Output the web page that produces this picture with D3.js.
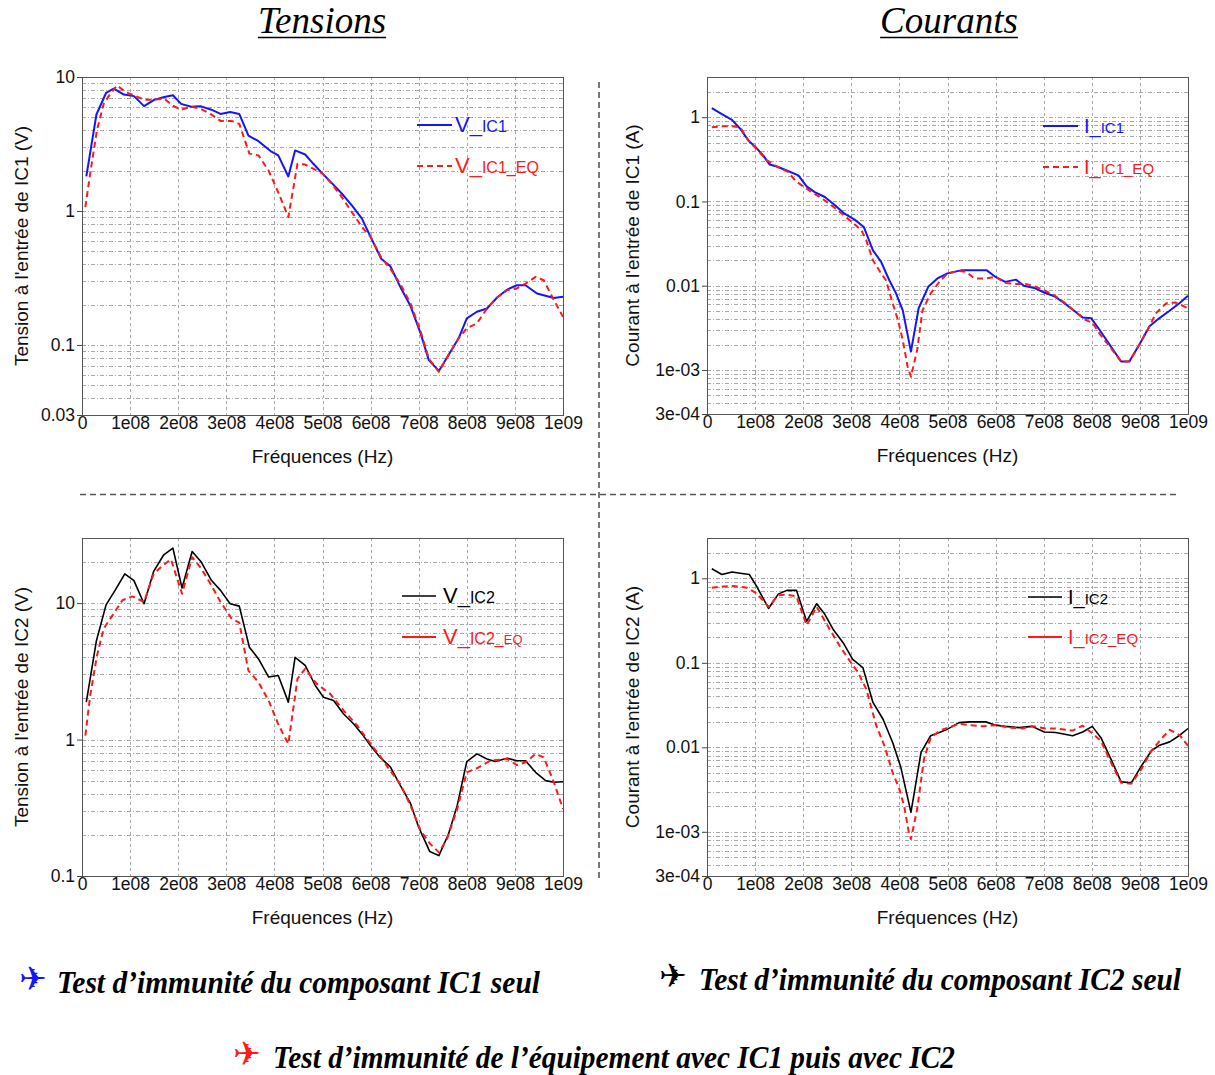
<!DOCTYPE html>
<html>
<head>
<meta charset="utf-8">
<script src="https://cdn.jsdelivr.net/npm/d3@7"></script>
<style>
  html, body { margin: 0; padding: 0; background: #fff; }
  svg { display: block; }
</style>
</head>
<body>
<script>
// Frequencies in MHz, values in V or A (log scale)
const xTickValues = [0, 100, 200, 300, 400, 500, 600, 700, 800, 900, 1000];
const xTickLabels = ["0", "1e08", "2e08", "3e08", "4e08", "5e08", "6e08", "7e08", "8e08", "9e08", "1e09"];

// Tensions, IC1
const freqV_IC1 = [9,30,50,66,87,108,129,150,171,189,206,227,246,269,288,308,327,346,367,392,408,429,443,464,481,500,519,540,561,582,600,622,641,662,683,704,721,742,762,783,800,821,842,863,884,904,922,946,981,1000];
const V_IC1 = [1.81,5.25,7.6,8.2,7.4,7.2,6.06,6.75,7.1,7.3,6.3,6.0,6.06,5.7,5.3,5.47,5.3,3.65,3.32,2.8,2.6,1.81,2.83,2.64,2.25,1.9,1.62,1.35,1.10,0.877,0.64,0.44,0.387,0.27,0.195,0.122,0.077,0.064,0.084,0.112,0.158,0.177,0.187,0.226,0.259,0.279,0.279,0.242,0.224,0.229];
const freqV_IC1_EQ = [7,17,31,45,59,73,91,108,129,150,171,189,206,227,246,269,288,311,327,348,367,388,409,429,448,464,500,519,540,561,582,600,622,641,662,683,704,721,742,762,783,800,821,842,863,884,904,922,943,960,981,1000];
const V_IC1_EQ = [1.07,1.9,4.0,6.3,7.5,8.65,7.7,7.3,6.76,6.76,6.9,6.1,5.7,6.0,5.8,5.25,4.7,4.7,4.47,2.68,2.6,2.0,1.35,0.90,2.25,2.22,1.9,1.6,1.27,0.98,0.76,0.64,0.45,0.37,0.284,0.204,0.126,0.079,0.063,0.084,0.112,0.133,0.145,0.187,0.226,0.256,0.264,0.287,0.322,0.304,0.216,0.162];

// Courants, IC1
const freqI_IC1 = [10,31,52,69,86,103,117,130,145,166,190,207,224,245,266,286,307,326,345,362,379,393,407,424,440,460,479,500,530,560,581,600,620,642,659,680,701,722,743,764,781,799,816,837,861,878,899,920,940,961,982,1000];
const I_IC1 = [1.28,1.09,0.93,0.73,0.53,0.43,0.35,0.275,0.26,0.233,0.204,0.151,0.129,0.113,0.09,0.0716,0.0608,0.0498,0.0263,0.0192,0.0116,0.0081,0.0051,0.00165,0.0054,0.0097,0.0122,0.0140,0.0153,0.0153,0.0153,0.0127,0.0111,0.0118,0.0100,0.0094,0.0083,0.0075,0.0062,0.0050,0.0042,0.0041,0.0030,0.0020,0.00126,0.00126,0.0020,0.0033,0.0041,0.0050,0.0062,0.0076];
const freqI_IC1_EQ = [10,31,52,69,86,103,124,145,169,183,197,214,234,255,276,297,321,331,345,362,372,386,397,407,417,424,437,448,465,483,500,524,539,556,580,600,621,642,663,684,701,722,743,764,788,802,816,837,861,878,899,920,933,955,975,1000];
const I_IC1_EQ = [0.76,0.78,0.78,0.76,0.53,0.42,0.31,0.26,0.223,0.178,0.155,0.133,0.113,0.094,0.075,0.0597,0.0455,0.0347,0.020,0.014,0.0116,0.0062,0.0039,0.00226,0.0011,0.00083,0.00173,0.0051,0.0081,0.0111,0.014,0.015,0.0146,0.0122,0.0122,0.0127,0.0108,0.0105,0.0105,0.0097,0.0088,0.0077,0.0063,0.0050,0.0039,0.0036,0.0027,0.0019,0.00126,0.00126,0.0020,0.0033,0.0047,0.0062,0.0063,0.0054];

// Tensions, IC2
const freqV_IC2 = [9,30,50,70,89,108,129,149,170,189,208,229,248,269,288,308,327,348,367,388,408,429,443,464,485,502,523,544,565,582,600,620,641,662,683,700,723,742,762,780,800,821,842,859,884,904,922,943,964,981,1000];
const V_IC2 = [1.88,5.3,9.7,12.6,16.4,14.6,9.9,17.1,22.6,25.3,12.9,23.9,20.0,14.7,12.4,9.9,9.5,4.75,3.9,2.87,2.95,1.88,4.0,3.49,2.49,2.04,1.93,1.54,1.30,1.10,0.90,0.74,0.63,0.46,0.34,0.228,0.151,0.141,0.203,0.328,0.69,0.785,0.72,0.69,0.73,0.70,0.70,0.575,0.50,0.486,0.49];
const freqV_IC2_EQ = [7,17,31,45,63,84,105,129,149,170,185,208,229,248,269,288,311,327,346,367,388,409,429,448,464,488,516,544,572,600,620,641,662,683,704,724,742,759,780,800,821,849,884,904,922,943,960,981,1000];
const V_IC2_EQ = [1.07,2.1,4.1,6.5,8.1,10.5,11.2,10.2,16.4,19.1,20.9,11.7,21.7,17.9,13.5,10.2,7.7,7.2,3.2,2.63,1.93,1.27,0.93,2.79,3.3,2.56,2.16,1.63,1.27,0.93,0.755,0.59,0.47,0.328,0.215,0.172,0.149,0.187,0.31,0.575,0.616,0.70,0.72,0.65,0.68,0.785,0.74,0.486,0.31];

// Courants, IC2
const freqI_IC2 = [10,31,52,69,88,103,114,128,148,166,186,207,228,245,262,283,303,324,345,366,386,403,424,445,465,483,500,524,545,580,600,620,649,676,701,725,760,781,801,819,840,861,882,903,924,941,962,983,1000];
const I_IC2 = [1.30,1.11,1.19,1.15,1.11,0.81,0.62,0.44,0.65,0.72,0.72,0.31,0.50,0.375,0.25,0.173,0.110,0.088,0.034,0.0215,0.0114,0.0058,0.0017,0.0087,0.0137,0.0150,0.0164,0.0196,0.020,0.020,0.0183,0.0177,0.0171,0.0177,0.0152,0.0150,0.0137,0.0152,0.0177,0.0130,0.0072,0.0039,0.0038,0.0060,0.0091,0.0106,0.0116,0.0139,0.0167];
const freqI_IC2_EQ = [10,34,55,83,103,128,148,166,186,207,228,255,276,297,314,331,352,369,386,400,410,419,424,437,451,465,486,503,524,549,573,600,628,656,676,704,725,760,781,799,819,840,861,882,903,924,944,962,983,1000];
const I_IC2_EQ = [0.775,0.80,0.81,0.775,0.665,0.46,0.63,0.64,0.61,0.278,0.46,0.25,0.158,0.105,0.077,0.049,0.018,0.0104,0.005,0.0032,0.0020,0.00103,0.00082,0.00186,0.0072,0.0130,0.016,0.0171,0.019,0.0183,0.0177,0.0183,0.0171,0.0167,0.0178,0.0167,0.0167,0.0158,0.018,0.015,0.0119,0.0066,0.0038,0.0037,0.0055,0.0091,0.0125,0.0161,0.0139,0.0104];

// Y tick values / labels
const voltTicks1 = [10, 1, 0.1, 0.03];
const voltTickLabels1 = ["10", "1", "0.1", "0.03"];
const voltTicks2 = [10, 1, 0.1];
const voltTickLabels2 = ["10", "1", "0.1"];
const currTicks = [1, 0.1, 0.01, 1e-3, 3e-4];
const currTickLabels = ["1", "0.1", "0.01", "1e-03", "3e-04"];

const W = 1215, H = 1075;
const SANS = "'Liberation Sans', Arial, sans-serif";
const SERIF = "'Liberation Serif', 'Times New Roman', serif";
const BLUE = "#1414ff", RED = "#ff1a1a", BLACK = "#000";

const svg = d3.select("body").append("svg")
  .attr("width", W).attr("height", H)
  .attr("viewBox", `0 0 ${W} ${H}`);
svg.append("rect").attr("width", W).attr("height", H).attr("fill", "#fff");

let clipId = 0;

function drawPanel(p) {
  const x = d3.scaleLinear().domain([0, 1000]).range([p.left, p.left + p.width]);
  const y = d3.scaleLog().domain(p.yDomain).range([p.top + p.height, p.top]);
  const g = svg.append("g");

  // horizontal grid at every 1..9 x 10^k inside the domain
  const gridVals = [];
  const [lo, hi] = p.yDomain;
  for (let e = Math.floor(Math.log10(lo)); e <= Math.ceil(Math.log10(hi)); e++) {
    for (let k = 1; k <= 9; k++) {
      const v = k * Math.pow(10, e);
      if (v > lo * 1.0001 && v < hi * 0.9999) gridVals.push(v);
    }
  }
  g.append("g").selectAll("line").data(gridVals).join("line")
    .attr("x1", p.left).attr("x2", p.left + p.width)
    .attr("y1", d => Math.round(y(d)) + 0.5).attr("y2", d => Math.round(y(d)) + 0.5)
    .attr("stroke", "#a8a8a8").attr("stroke-width", 1)
    .attr("stroke-dasharray", "4,2,1,2");

  // vertical grid every 1e08
  g.append("g").selectAll("line").data(xTickValues.slice(1, -1)).join("line")
    .attr("x1", d => Math.round(x(d)) + 0.5).attr("x2", d => Math.round(x(d)) + 0.5)
    .attr("y1", p.top).attr("y2", p.top + p.height)
    .attr("stroke", "#a8a8a8").attr("stroke-width", 1)
    .attr("stroke-dasharray", "3,3");

  // frame
  g.append("rect")
    .attr("x", p.left + 0.5).attr("y", p.top + 0.5)
    .attr("width", p.width).attr("height", p.height)
    .attr("fill", "none").attr("stroke", "#555").attr("stroke-width", 1);

  // axes
  const ay = g.append("g").attr("transform", `translate(${p.left},0)`)
    .call(d3.axisLeft(y).tickValues(p.yTicks)
      .tickFormat((d, i) => p.yTickLabels[i]).tickSizeInner(5).tickSizeOuter(0).tickPadding(2));
  ay.select(".domain").remove();
  ay.selectAll("line").attr("stroke", "#444");
  ay.selectAll("text").attr("font-family", SANS).attr("font-size", 17.5).attr("fill", "#111");

  const ax = g.append("g").attr("transform", `translate(0,${p.top + p.height})`)
    .call(d3.axisBottom(x).tickValues(xTickValues)
      .tickFormat((d, i) => xTickLabels[i]).tickSizeInner(0).tickSizeOuter(0).tickPadding(2));
  ax.select(".domain").remove();
  ax.selectAll("text").attr("font-family", SANS).attr("font-size", 17.5).attr("fill", "#111");

  // axis titles
  g.append("text")
    .attr("x", p.left + p.width / 2).attr("y", p.top + p.height + 48)
    .attr("text-anchor", "middle").attr("font-family", SANS).attr("font-size", 19)
    .attr("fill", "#111").text("Fréquences (Hz)");
  g.append("text")
    .attr("transform", `translate(${p.left - p.yTitleOffset},${p.top + p.height / 2}) rotate(-90)`)
    .attr("text-anchor", "middle").attr("dominant-baseline", "central")
    .attr("font-family", SANS).attr("font-size", 19).attr("fill", "#111")
    .text(p.yTitle);

  // series
  const id = "clip" + (clipId++);
  svg.append("clipPath").attr("id", id).append("rect")
    .attr("x", p.left).attr("y", p.top).attr("width", p.width + 1).attr("height", p.height + 1);
  const lineGen = d3.line().x(d => x(d[0])).y(d => y(d[1]));
  p.series.forEach(s => {
    const pts = s.freq.map((f, i) => [f, s.values[i]]);
    g.append("path").datum(pts)
      .attr("clip-path", `url(#${id})`)
      .attr("d", lineGen)
      .attr("fill", "none").attr("stroke", s.color)
      .attr("stroke-width", s.width)
      .attr("stroke-dasharray", s.dash || null)
      .attr("stroke-linejoin", "round");
  });

  // legend
  p.series.forEach((s, i) => {
    const ly = p.legend.y + i * p.legend.gap;
    g.append("line")
      .attr("x1", p.legend.x).attr("x2", p.legend.x + p.legend.len)
      .attr("y1", ly).attr("y2", ly)
      .attr("stroke", s.color).attr("stroke-width", s.width)
      .attr("stroke-dasharray", s.legendDash || null);
    const t = g.append("text")
      .attr("x", p.legend.x + p.legend.len + p.legend.pad).attr("y", ly + 7)
      .attr("font-family", SANS).attr("fill", s.color);
    s.label.forEach(part => t.append("tspan").attr("font-size", part[1]).text(part[0]));
  });
}

drawPanel({
  left: 82, top: 77, width: 481, height: 338,
  yDomain: [0.03, 10], yTicks: voltTicks1, yTickLabels: voltTickLabels1,
  yTitle: "Tension à l'entrée de IC1 (V)", yTitleOffset: 61,
  legend: { x: 417, y: 125, gap: 41, len: 35, pad: 3 },
  series: [
    { freq: freqV_IC1, values: V_IC1, color: BLUE, width: 2, label: [["V_", 22], ["IC1", 16]] },
    { freq: freqV_IC1_EQ, values: V_IC1_EQ, color: RED, width: 2, dash: "6,4", legendDash: "6,4",
      label: [["V_", 22], ["IC1_EQ", 16]] }
  ]
});

drawPanel({
  left: 707, top: 77, width: 481, height: 337,
  yDomain: [3e-4, 3], yTicks: currTicks, yTickLabels: currTickLabels,
  yTitle: "Courant à l'entrée de IC1 (A)", yTitleOffset: 75,
  legend: { x: 1043, y: 126, gap: 41, len: 35, pad: 6 },
  series: [
    { freq: freqI_IC1, values: I_IC1, color: BLUE, width: 2, label: [["I_", 20], ["IC1", 15]] },
    { freq: freqI_IC1_EQ, values: I_IC1_EQ, color: RED, width: 2, dash: "6,4", legendDash: "6,4",
      label: [["I_", 20], ["IC1_EQ", 15]] }
  ]
});

drawPanel({
  left: 82, top: 538, width: 481, height: 338,
  yDomain: [0.1, 30], yTicks: voltTicks2, yTickLabels: voltTickLabels2,
  yTitle: "Tension à l'entrée de IC2 (V)", yTitleOffset: 61,
  legend: { x: 402, y: 596, gap: 41, len: 34, pad: 7 },
  series: [
    { freq: freqV_IC2, values: V_IC2, color: BLACK, width: 1.6, label: [["V_", 22], ["IC2", 16]] },
    { freq: freqV_IC2_EQ, values: V_IC2_EQ, color: RED, width: 2, dash: "6,4",
      label: [["V_", 22], ["IC2_", 16], ["EQ", 13]] }
  ]
});

drawPanel({
  left: 707, top: 538, width: 481, height: 338,
  yDomain: [3e-4, 3], yTicks: currTicks, yTickLabels: currTickLabels,
  yTitle: "Courant à l'entrée de IC2 (A)", yTitleOffset: 75,
  legend: { x: 1028, y: 597, gap: 40, len: 34, pad: 6 },
  series: [
    { freq: freqI_IC2, values: I_IC2, color: BLACK, width: 1.6, label: [["I_", 20], ["IC2", 15]] },
    { freq: freqI_IC2_EQ, values: I_IC2_EQ, color: RED, width: 2, dash: "6,4",
      label: [["I_", 20], ["IC2_EQ", 15]] }
  ]
});

// Section titles
[["Tensions", 322], ["Courants", 949]].forEach(([txt, cx]) => {
  const t = svg.append("text")
    .attr("x", cx).attr("y", 33).attr("text-anchor", "middle")
    .attr("font-family", SERIF).attr("font-style", "italic").attr("font-size", 37)
    .attr("fill", "#000").text(txt);
  const w = t.node().getComputedTextLength();
  svg.append("line")
    .attr("x1", cx - w / 2).attr("x2", cx + w / 2)
    .attr("y1", 37.5).attr("y2", 37.5)
    .attr("stroke", "#000").attr("stroke-width", 1.5);
});

// Quadrant separators
svg.append("line").attr("x1", 599).attr("x2", 599).attr("y1", 82).attr("y2", 880)
  .attr("stroke", "#555").attr("stroke-width", 1.6).attr("stroke-dasharray", "6,4");
svg.append("line").attr("x1", 80).attr("x2", 1180).attr("y1", 494.5).attr("y2", 494.5)
  .attr("stroke", "#555").attr("stroke-width", 1.6).attr("stroke-dasharray", "6,4");

// Notes
const notes = [
  { icon: BLUE, ix: 19, x: 57, y: 993, len: 483, text: "Test d’immunité du composant IC1 seul" },
  { icon: BLACK, ix: 659, x: 699, y: 990, len: 482, text: "Test d’immunité du composant IC2 seul" },
  { icon: RED, ix: 233, x: 273, y: 1068, len: 682, text: "Test d’immunité de l’équipement avec IC1 puis avec IC2" }
];
notes.forEach(n => {
  svg.append("text").attr("x", n.ix).attr("y", n.y - 3)
    .attr("font-family", "'DejaVu Sans', sans-serif").attr("font-size", 33)
    .attr("fill", n.icon).text("✈");
  svg.append("text").attr("x", n.x).attr("y", n.y)
    .attr("font-family", SERIF).attr("font-style", "italic").attr("font-weight", "bold")
    .attr("font-size", 31).attr("fill", "#000")
    .attr("textLength", n.len).attr("lengthAdjust", "spacingAndGlyphs")
    .text(n.text);
});
</script>
</body>
</html>
